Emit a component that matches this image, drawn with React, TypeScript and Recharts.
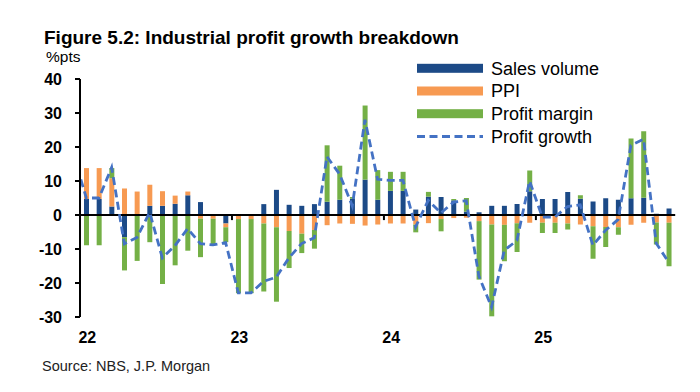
import React from 'react';
import { ComposedChart, Bar, Line, XAxis, YAxis, ReferenceLine } from 'recharts';

const periods = [
  'Jan-22', 'Feb-22', 'Mar-22', 'Apr-22', 'May-22', 'Jun-22', 'Jul-22', 'Aug-22', 'Sep-22', 'Oct-22', 'Nov-22', 'Dec-22',
  'Jan-23', 'Feb-23', 'Mar-23', 'Apr-23', 'May-23', 'Jun-23', 'Jul-23', 'Aug-23', 'Sep-23', 'Oct-23', 'Nov-23', 'Dec-23',
  'Jan-24', 'Feb-24', 'Mar-24', 'Apr-24', 'May-24', 'Jun-24', 'Jul-24', 'Aug-24', 'Sep-24', 'Oct-24', 'Nov-24', 'Dec-24',
  'Jan-25', 'Feb-25', 'Mar-25', 'Apr-25', 'May-25', 'Jun-25', 'Jul-25', 'Aug-25', 'Sep-25', 'Oct-25', 'Nov-25',
];

const salesVolume = [
  4.7, 4.7, 2.5, -6.5, 0.3, 2.7, 2.7, 3.3, 5.8, 3.8, 0.0, -2.5,
  0.0, 0.0, 3.2, 7.4, 3.0, 2.7, 3.2, 3.9, 4.5, 4.8, 10.4, 4.5,
  7.1, 7.1, 1.6, 5.4, 5.3, 4.3, 1.0, 0.8, 2.7, 2.7, 3.2, 7.0,
  4.7, 4.7, 6.8, 4.8, 4.0, 4.9, 4.5, 4.9, 5.1, 0.4, 1.9,
];

const ppi = [
  9.1, 9.1, 8.3, 7.8, 6.6, 6.2, 4.3, 2.4, 1.1, -1.1, -1.1, -1.1,
  -1.2, -1.2, -2.5, -3.6, -4.7, -5.5, -4.4, -3.0, -2.5, -2.6, -3.1, -2.8,
  -2.5, -2.5, -2.8, -2.4, -1.2, -0.9, -0.8, -1.8, -2.8, -2.9, -2.4, -2.3,
  -2.3, -2.3, -2.5, -2.8, -3.3, -3.5, -3.6, -2.9, -2.3, -2.2, -2.3,
];

const profitMargin = [
  -8.9, -8.9, 3.0, -9.8, -13.5, -8.0, -20.3, -14.8, -10.5, -11.3, -7.6, -4.4,
  -21.8, -21.8, -20.0, -21.9, -10.9, -5.7, -5.5, 16.6, 10.0, 0.5, 21.8, 8.7,
  5.6, 5.6, -2.3, 1.4, -3.6, 0.4, 4.0, -17.2, -27.0, -10.7, -8.5, 6.1,
  -3.0, -3.0, -1.8, 1.0, -9.6, -5.9, -2.2, 17.6, 19.5, -6.5, -12.8,
];

const profitGrowth = [
  5.0, 5.0, 14.0, -8.5, -6.6, 0.8, -12.6, -9.0, -4.0, -8.4, -8.8, -8.1,
  -22.9, -22.9, -19.5, -18.3, -12.6, -8.4, -6.7, 17.2, 12.0, 2.7, 28.0, 10.5,
  10.2, 10.2, -3.5, 4.3, 0.6, 3.8, 4.2, -18.0, -27.1, -10.4, -7.5, 10.0,
  -0.6, -0.6, 2.5, 3.0, -8.9, -4.5, -1.3, 20.5, 22.3, -8.3, -14.0,
];

// Dec-21 point sits left of the plot edge; only its segment into Jan-22 is visible
const priorPeriod = 'Dec-21';
const priorProfitGrowth = 17.5;

const yearTickIdx = [0, 12, 24, 36];
const yearLabels = ['22', '23', '24', '25'];
const yearBoundaries = [11.5, 23.5, 35.5];
const yTicks = [-30, -20, -10, 0, 10, 20, 30, 40];

const seriesNames = ['Sales volume', 'PPI', 'Profit margin', 'Profit growth'];

const COLORS = {
  sales: '#1C4A87',
  ppi: '#F79A52',
  margin: '#74B046',
  growth: '#4472C4',
};

const data = [
  { idx: -1, period: priorPeriod, growth: priorProfitGrowth },
  ...periods.map((p, i) => ({
    idx: i,
    period: p,
    sales: salesVolume[i],
    ppi: ppi[i],
    margin: profitMargin[i],
    growth: profitGrowth[i],
  })),
];

const FONT = '"Liberation Sans", Arial, Helvetica, sans-serif';

export default function App() {
  const legendRows = [
    { name: seriesNames[0], color: COLORS.sales, type: 'bar' },
    { name: seriesNames[1], color: COLORS.ppi, type: 'bar' },
    { name: seriesNames[2], color: COLORS.margin, type: 'bar' },
    { name: seriesNames[3], color: COLORS.growth, type: 'line' },
  ];
  const rowY = [68.3, 91, 113.7, 136.5];
  return (
    <div style={{ position: 'absolute', left: 0, top: 0, width: 700, height: 392, background: '#fff' }}>
      <ComposedChart
        width={700}
        height={392}
        data={data}
        stackOffset="sign"
        margin={{ top: 79, right: 24.8, bottom: 45, left: 20 }}
      >
        <XAxis
          dataKey="idx"
          type="number"
          domain={[-0.5, 46.5]}
          allowDataOverflow
          ticks={yearTickIdx}
          tickFormatter={(v: number) => yearLabels[yearTickIdx.indexOf(v)] ?? ''}
          axisLine={false}
          tickLine={false}
          tickSize={0}
          tickMargin={15}
          height={30}
          interval={0}
          tick={{ fill: '#000', fontSize: 16, fontWeight: 700, fontFamily: FONT, dx: 1 }}
        />
        <YAxis
          type="number"
          domain={[-30, 40]}
          ticks={yTicks}
          interval={0}
          width={60}
          axisLine={{ stroke: '#000', strokeWidth: 2 }}
          tickLine={{ stroke: '#000', strokeWidth: 2 }}
          tickSize={5}
          tickMargin={13}
          tick={{ fill: '#000', fontSize: 16, fontWeight: 700, fontFamily: FONT }}
        />
        <Bar dataKey="sales" name={seriesNames[0]} stackId="a" fill={COLORS.sales} barSize={5} isAnimationActive={false} />
        <Bar dataKey="ppi" name={seriesNames[1]} stackId="a" fill={COLORS.ppi} barSize={5} isAnimationActive={false} />
        <Bar dataKey="margin" name={seriesNames[2]} stackId="a" fill={COLORS.margin} barSize={5} isAnimationActive={false} />
        <ReferenceLine y={0} stroke="#000" strokeWidth={2} />
        {yearBoundaries.map((b) => (
          <ReferenceLine
            key={b}
            segment={[{ x: b, y: 0 }, { x: b, y: -1.5 }]}
            stroke="#000"
            strokeWidth={2}
          />
        ))}
        <Line
          dataKey="growth"
          name={seriesNames[3]}
          type="linear"
          stroke={COLORS.growth}
          strokeWidth={2.8}
          strokeDasharray="8 4.5"
          dot={false}
          activeDot={false}
          isAnimationActive={false}
        />
      </ComposedChart>
      <svg
        width={700}
        height={392}
        style={{ position: 'absolute', left: 0, top: 0, pointerEvents: 'none' }}
      >
        <text x={44} y={44} fontFamily={FONT} fontWeight={700} fontSize={19} fill="#000">
          Figure 5.2: Industrial profit growth breakdown
        </text>
        <text x={46} y={62} fontFamily={FONT} fontSize={15.5} fill="#000">
          %pts
        </text>
        <text x={42} y={371} fontFamily={FONT} fontSize={14.5} fill="#222">
          Source: NBS, J.P. Morgan
        </text>
        {legendRows.map((r, i) => (
          <g key={r.name}>
            {r.type === 'bar' ? (
              <rect x={417} y={rowY[i] - 4.5} width={66} height={9} fill={r.color} />
            ) : (
              <line
                x1={417}
                x2={483}
                y1={rowY[i]}
                y2={rowY[i]}
                stroke={r.color}
                strokeWidth={2.8}
                strokeDasharray="8 4.5"
              />
            )}
            <text x={491} y={rowY[i] + 6.4} fontFamily={FONT} fontSize={18} fill="#000">
              {r.name}
            </text>
          </g>
        ))}
      </svg>
    </div>
  );
}
